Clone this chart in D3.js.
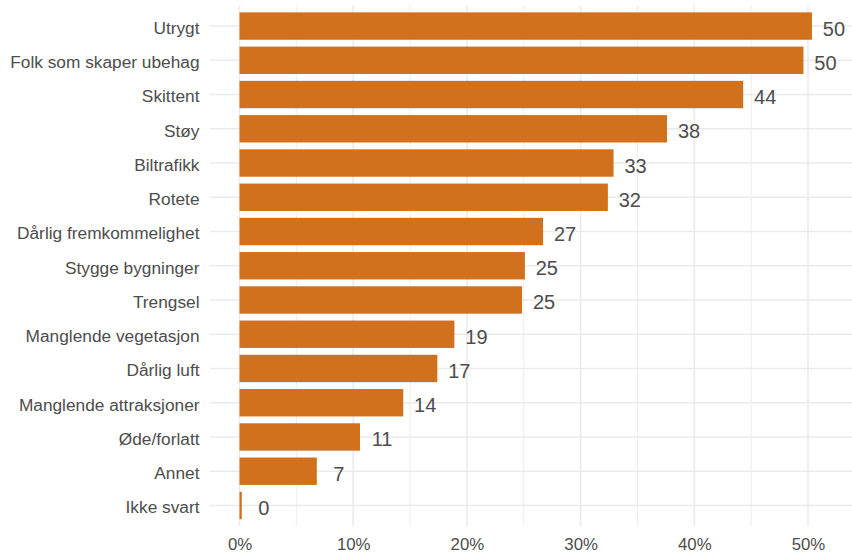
<!DOCTYPE html>
<html>
<head>
<meta charset="utf-8">
<script src="https://cdn.jsdelivr.net/npm/d3@7"></script>
<style>
  html, body { margin: 0; padding: 0; background: #ffffff; }
  svg { display: block; font-family: "Liberation Sans", Arial, Helvetica, sans-serif; }
</style>
</head>
<body>
<svg id="chart" width="852" height="555"></svg>
<script>
// Reasons given for experiencing a place as unpleasant (share of respondents, %)
const categories = [
  "Utrygt",
  "Folk som skaper ubehag",
  "Skittent",
  "Støy",
  "Biltrafikk",
  "Rotete",
  "Dårlig fremkommelighet",
  "Stygge bygninger",
  "Trengsel",
  "Manglende vegetasjon",
  "Dårlig luft",
  "Manglende attraksjoner",
  "Øde/forlatt",
  "Annet",
  "Ikke svart"
];
const values = [50.35, 49.6, 44.3, 37.6, 32.9, 32.4, 26.7, 25.1, 24.85, 18.9, 17.4, 14.4, 10.6, 6.8, 0.2];
const majorTicks = [0, 10, 20, 30, 40, 50];
const minorTicks = [5, 15, 25, 35, 45, 55];
const tickLabels = ["0%", "10%", "20%", "30%", "40%", "50%"];

const data = categories.map((c, i) => ({ category: c, value: values[i] }));

const svg = d3.select("#chart");

// panel extent
const panel = { left: 210, right: 852, top: 5.5, bottom: 526 };

const x = d3.scaleLinear().domain([0, 50]).range([239.5, 808]);
const y = d3.scaleBand()
  .domain(categories)
  .range([panel.top, panel.bottom])
  .paddingInner(0.2)
  .paddingOuter(0.2);

const grid = svg.append("g").attr("class", "grid");

// minor vertical grid
grid.selectAll("line.minor")
  .data(minorTicks.filter(t => x(t) <= panel.right))
  .join("line")
  .attr("class", "minor")
  .attr("x1", d => x(d)).attr("x2", d => x(d))
  .attr("y1", panel.top).attr("y2", panel.bottom)
  .attr("stroke", "#ebebeb").attr("stroke-width", 0.9);

// major vertical grid
grid.selectAll("line.majorx")
  .data(majorTicks)
  .join("line")
  .attr("class", "majorx")
  .attr("x1", d => x(d)).attr("x2", d => x(d))
  .attr("y1", panel.top).attr("y2", panel.bottom)
  .attr("stroke", "#ebebeb").attr("stroke-width", 1.6);

// major horizontal grid at each category
grid.selectAll("line.majory")
  .data(categories)
  .join("line")
  .attr("class", "majory")
  .attr("x1", panel.left).attr("x2", panel.right)
  .attr("y1", d => y(d) + y.bandwidth() / 2)
  .attr("y2", d => y(d) + y.bandwidth() / 2)
  .attr("stroke", "#ebebeb").attr("stroke-width", 1.6);

// bars
svg.append("g").selectAll("rect")
  .data(data)
  .join("rect")
  .attr("x", x(0))
  .attr("y", d => y(d.category))
  .attr("width", d => x(d.value) - x(0))
  .attr("height", y.bandwidth())
  .attr("fill", "#d2711d");

// value labels, centred a fixed distance past the bar end
svg.append("g").selectAll("text")
  .data(data)
  .join("text")
  .attr("x", d => x(d.value) + 22)
  .attr("y", d => y(d.category) + y.bandwidth() / 2 + 2.3)
  .attr("dy", "0.36em")
  .attr("text-anchor", "middle")
  .attr("font-size", 20)
  .attr("fill", "#4d4d4d")
  .text(d => Math.round(d.value));

// y axis (category labels)
const yAxis = d3.axisLeft(y).tickSize(0).tickPadding(0);
const gy = svg.append("g")
  .attr("transform", `translate(${199.5},2.3)`)
  .call(yAxis);
gy.select(".domain").remove();
gy.selectAll("text")
  .attr("font-size", 17.3)
  .attr("fill", "#4d4d4d")
  .attr("font-family", "'Liberation Sans', Arial, sans-serif");

// x axis (percent labels)
const xAxis = d3.axisBottom(x)
  .tickValues(majorTicks)
  .tickFormat((d, i) => tickLabels[i])
  .tickSize(0)
  .tickPadding(0);
const gx = svg.append("g")
  .attr("transform", `translate(0,${538.5})`)
  .call(xAxis);
gx.select(".domain").remove();
gx.selectAll("text")
  .attr("font-size", 16.8)
  .attr("fill", "#4d4d4d")
  .attr("font-family", "'Liberation Sans', Arial, sans-serif");
</script>
</body>
</html>
